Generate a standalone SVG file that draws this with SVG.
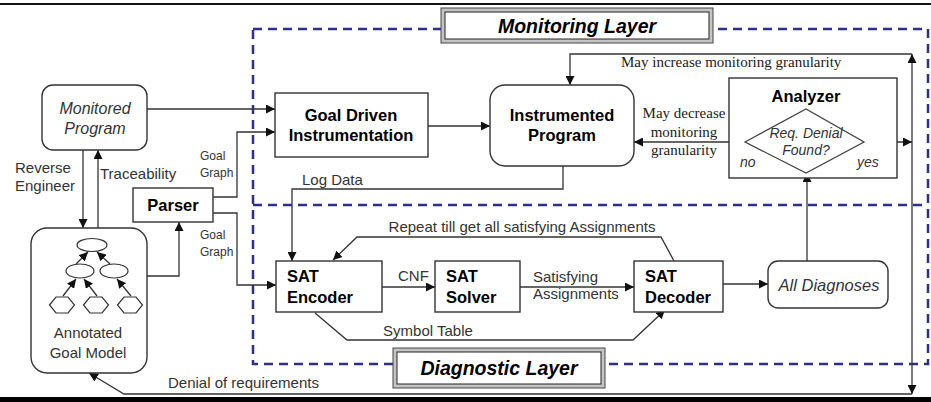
<svg xmlns="http://www.w3.org/2000/svg" width="931" height="402" viewBox="0 0 931 402">
<style>
.box{fill:#fff;stroke:#333;stroke-width:1.4}
.ln{fill:none;stroke:#333;stroke-width:1.3}
.b{font-family:"Liberation Sans",Arial,sans-serif;font-weight:bold;font-size:16.5px;fill:#000}
.s{font-family:"Liberation Sans",Arial,sans-serif;font-size:15px;fill:#333}
.i{font-family:"Liberation Sans",Arial,sans-serif;font-style:italic;fill:#333}
.sm{font-family:"Liberation Sans",Arial,sans-serif;font-size:12px;fill:#333}
.t{font-family:"Liberation Serif","Times New Roman",serif;font-size:15px;fill:#222}
.layer{font-family:"Liberation Sans",Arial,sans-serif;font-weight:bold;font-style:italic;font-size:19.5px;fill:#000}
.dash{fill:none;stroke:#2e2e8c;stroke-width:2.5;stroke-dasharray:9 6}
</style>
<defs>
<marker id="ah" viewBox="0 0 10 10" refX="10" refY="5" markerWidth="9" markerHeight="9" markerUnits="userSpaceOnUse" orient="auto-start-reverse">
<path d="M0,0 L10,5 L0,10 Z" fill="#111"/>
</marker>
</defs>
<rect width="931" height="402" fill="#fff"/>
<line x1="0" y1="4" x2="931" y2="4" stroke="#111" stroke-width="2"/>
<rect x="0" y="397" width="931" height="5" fill="#000"/>

<g id="layers">
<rect class="dash" x="253" y="29" width="675" height="335"/>
<line class="dash" x1="253" y1="205" x2="928" y2="205"/>
</g>

<g id="monitoring-layer">
<rect x="441" y="8" width="272" height="35" fill="#c4c4c4" stroke="#444" stroke-width="1"/>
<rect x="445" y="12" width="264" height="27" fill="#fff" stroke="#222" stroke-width="1"/>
<text class="layer" x="577" y="33" text-anchor="middle">Monitoring Layer</text>
</g>
<g id="diagnostic-layer">
<rect x="393" y="348" width="212" height="40" fill="#c4c4c4" stroke="#444" stroke-width="1"/>
<rect x="397" y="352" width="204" height="32" fill="#fff" stroke="#222" stroke-width="1"/>
<text class="layer" x="499" y="375" text-anchor="middle">Diagnostic Layer</text>
</g>

<g id="connectors">
<path class="ln" d="M147,109 H275" marker-end="url(#ah)"/>
<path class="ln" d="M213,197 H237 V132 H275" marker-end="url(#ah)"/>
<path class="ln" d="M213,213 H237 V285 H276" marker-end="url(#ah)"/>
<path class="ln" d="M83,150 V228" marker-end="url(#ah)"/>
<path class="ln" d="M98,228 V150" marker-end="url(#ah)"/>
<path class="ln" d="M143,276 H179 V222" marker-end="url(#ah)"/>
<path class="ln" d="M428,126 H490" marker-end="url(#ah)"/>
<path class="ln" d="M912,54 H570 V85" marker-end="url(#ah)"/>
<path class="ln" d="M912,54 V394" marker-start="url(#ah)" marker-end="url(#ah)"/>
<path class="ln" d="M912,394 H124 L89,373" marker-end="url(#ah)"/>
<path class="ln" d="M745,142 H634" marker-end="url(#ah)"/>
<path class="ln" d="M864,142 H912" marker-end="url(#ah)"/>
<path class="ln" d="M563,166 V189 H292 V261" marker-end="url(#ah)"/>
<path class="ln" d="M382,287 H435" marker-end="url(#ah)"/>
<path class="ln" d="M520,287 H634" marker-end="url(#ah)"/>
<path class="ln" d="M674,261 L661,237 H357 L333,260" marker-end="url(#ah)"/>
<path class="ln" d="M315,313 L347,340 H633 L665,310" marker-end="url(#ah)"/>
<path class="ln" d="M723,284 H768" marker-end="url(#ah)"/>
<path class="ln" d="M807,261 V173" marker-end="url(#ah)"/>
<text class="s" x="15" y="173" font-size="16">Reverse</text>
<text class="s" x="15" y="191" font-size="16">Engineer</text>
<text class="s" x="100" y="179" font-size="16">Traceability</text>
<text class="sm" x="200" y="160">Goal</text>
<text class="sm" x="200" y="177">Graph</text>
<text class="sm" x="200" y="239">Goal</text>
<text class="sm" x="200" y="256">Graph</text>
<text class="s" x="302" y="185">Log Data</text>
<text class="s" x="398" y="281">CNF</text>
<text class="s" x="533" y="282">Satisfying</text>
<text class="s" x="533" y="299">Assignments</text>
<text class="s" x="522" y="232" text-anchor="middle">Repeat till get all satisfying Assignments</text>
<text class="s" x="428" y="336" text-anchor="middle">Symbol Table</text>
<text class="s" x="168" y="388">Denial of requirements</text>
<text class="t" x="621" y="67" font-size="14.5">May increase monitoring granularity</text>
<text class="t" x="684" y="118" text-anchor="middle">May decrease</text>
<text class="t" x="684" y="137" text-anchor="middle">monitoring</text>
<text class="t" x="684" y="155" text-anchor="middle">granularity</text>
</g>

<g id="monitored-program">
<rect class="box" x="42" y="85" width="105" height="65" rx="11"/>
<text class="i" x="95" y="114" font-size="16" text-anchor="middle">Monitored</text>
<text class="i" x="95" y="134" font-size="16" text-anchor="middle">Program</text>
</g>

<g id="goal-model">
<rect class="box" x="31" y="228" width="116" height="145" rx="16"/>
<ellipse cx="92" cy="245" rx="15" ry="6.5" fill="#fff" stroke="#333" stroke-width="1.2"/>
<ellipse cx="80" cy="271" rx="14" ry="7" fill="#fff" stroke="#333" stroke-width="1.2"/>
<ellipse cx="114" cy="271" rx="14" ry="7" fill="#fff" stroke="#333" stroke-width="1.2"/>
<polygon points="49.5,305 56,297 68,297 74.5,305 68,313 56,313" fill="#fff" stroke="#333" stroke-width="1.2"/>
<polygon points="83.5,305 90,297 102,297 108.5,305 102,313 90,313" fill="#fff" stroke="#333" stroke-width="1.2"/>
<polygon points="117.5,305 124,297 136,297 142.5,305 136,313 124,313" fill="#fff" stroke="#333" stroke-width="1.2"/>
<path class="ln" d="M63,296 L76,279" marker-end="url(#ah)"/>
<path class="ln" d="M97,296 L84,279" marker-end="url(#ah)"/>
<path class="ln" d="M131,296 L117,279" marker-end="url(#ah)"/>
<path class="ln" d="M76,264 L88,252" marker-end="url(#ah)"/>
<path class="ln" d="M110,264 L97,252" marker-end="url(#ah)"/>
<text class="s" x="88" y="338" font-size="16" text-anchor="middle">Annotated</text>
<text class="s" x="88" y="358" font-size="16" text-anchor="middle">Goal Model</text>
</g>

<g id="parser">
<rect class="box" x="133" y="188" width="80" height="34"/>
<text class="b" x="173" y="211" text-anchor="middle">Parser</text>
</g>

<g id="goal-driven-instrumentation">
<rect class="box" x="275" y="93" width="153" height="64"/>
<text class="b" x="351" y="121" text-anchor="middle">Goal Driven</text>
<text class="b" x="351" y="141" text-anchor="middle">Instrumentation</text>
</g>

<g id="instrumented-program">
<rect class="box" x="490" y="85" width="144" height="81" rx="15"/>
<text class="b" x="562" y="121" text-anchor="middle">Instrumented</text>
<text class="b" x="562" y="141" text-anchor="middle">Program</text>
</g>

<g id="analyzer">
<rect class="box" x="729" y="78" width="168" height="100"/>
<text class="b" x="806" y="102" text-anchor="middle">Analyzer</text>
<polygon points="745,142 806,109 864,142 806,173" fill="#fff" stroke="#444" stroke-width="1.3"/>
<text class="i" x="806" y="138" font-size="14" text-anchor="middle">Req. Denial</text>
<text class="i" x="806" y="155" font-size="14" text-anchor="middle">Found?</text>
<text class="i" x="740" y="167" font-size="14">no</text>
<text class="i" x="857" y="167" font-size="14">yes</text>
</g>

<g id="sat-encoder">
<rect class="box" x="276" y="261" width="106" height="51"/>
<text class="b" x="287" y="282">SAT</text>
<text class="b" x="287" y="303">Encoder</text>
</g>

<g id="sat-solver">
<rect class="box" x="435" y="261" width="85" height="51"/>
<text class="b" x="446" y="282">SAT</text>
<text class="b" x="446" y="303">Solver</text>
</g>

<g id="sat-decoder">
<rect class="box" x="634" y="261" width="89" height="51"/>
<text class="b" x="645" y="282">SAT</text>
<text class="b" x="645" y="303">Decoder</text>
</g>

<g id="all-diagnoses">
<rect class="box" x="768" y="261" width="120" height="47" rx="10"/>
<text class="i" x="829" y="291" font-size="16.5" text-anchor="middle">All Diagnoses</text>
</g>
</svg>
